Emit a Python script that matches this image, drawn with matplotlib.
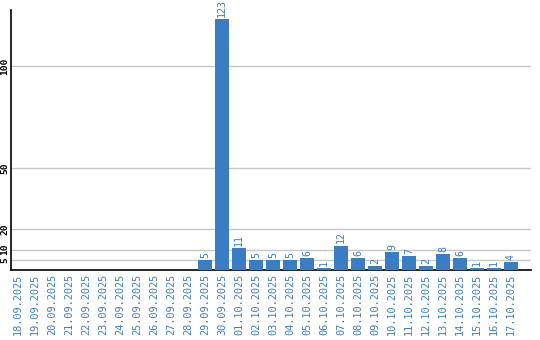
import matplotlib
matplotlib.use('Agg')
import matplotlib.pyplot as plt
import numpy as np

dates = ['18.09.2025', '19.09.2025', '20.09.2025', '21.09.2025', '22.09.2025',
         '23.09.2025', '24.09.2025', '25.09.2025', '26.09.2025', '27.09.2025',
         '28.09.2025', '29.09.2025', '30.09.2025', '01.10.2025', '02.10.2025',
         '03.10.2025', '04.10.2025', '05.10.2025', '06.10.2025', '07.10.2025',
         '08.10.2025', '09.10.2025', '10.10.2025', '11.10.2025', '12.10.2025',
         '13.10.2025', '14.10.2025', '15.10.2025', '16.10.2025', '17.10.2025']
values = [0, 0, 0, 0, 0, 0, 0, 0, 0, 0, 0,
          5, 123, 11, 5, 5, 5, 6, 1, 12, 6, 2, 9, 7, 2, 8, 6, 1, 1, 4]
yticks = [5, 10, 20, 50, 100]

blue = '#3b7dc4'
mono = 'DejaVu Sans Mono'

fig = plt.figure(figsize=(5.4, 3.4), dpi=100)
ax = fig.add_axes([11/540, 70/340, 520/540, 260/340])

x = np.arange(len(dates))
bars = ax.bar(x, values, width=0.82, color=blue, zorder=3)
for xi, v in zip(x, values):
    if v > 0:
        ax.text(xi, v + 1.0, str(v), rotation=90, ha='center', va='bottom',
                color=blue, fontsize=7.2, family=mono)

ax.set_xlim(-0.41, 30.18)
ax.set_ylim(0, 127.5)
ax.set_yticks(yticks)
ax.set_yticklabels([str(t) for t in yticks], rotation=90, va='center',
                   family=mono, fontsize=6.8, fontweight='bold')
ax.set_xticks(x)
ax.set_xticklabels(dates, rotation=90, color=blue, family=mono, fontsize=7.4)
ax.tick_params(axis='both', length=0, pad=3)
ax.tick_params(axis='y', pad=1)
ax.grid(axis='y', color='#c8c8c8', linewidth=1, zorder=0)
for s in ['top', 'right']:
    ax.spines[s].set_visible(False)
ax.spines['left'].set_color('black')
ax.spines['bottom'].set_color('black')
ax.spines['left'].set_linewidth(1.2)
ax.spines['bottom'].set_linewidth(1.2)

fig.savefig('out.png', dpi=100)
